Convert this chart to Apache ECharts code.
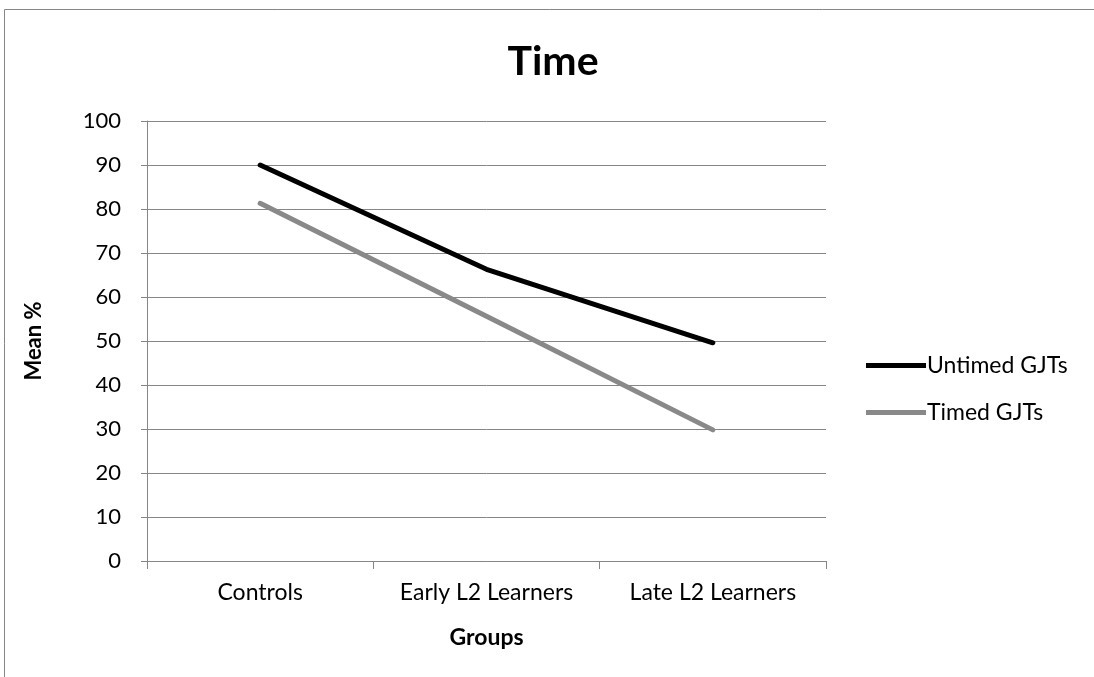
<!DOCTYPE html>
<html>
<head>
<meta charset="utf-8">
<script src="https://cdn.jsdelivr.net/npm/echarts@6/dist/echarts.min.js"></script>
<style>
  html, body { margin: 0; padding: 0; background: #fff; }
  #chart { width: 1094px; height: 677px; }
</style>
</head>
<body>
<div id="chart"></div>
<script>
// data
const groups = ['Controls', 'Early L2 Learners', 'Late L2 Learners']
const untimed = [90, 66.3, 49.6]
const timed = [81.3, 55.6, 29.8]
const yTicks = [0, 100, 10]

const font = 'Lato, "Open Sans", sans-serif'
const gridGray = '#868686'

let myChart = echarts.init(document.getElementById('chart'))
let option = {
  animation: false,
  textStyle: { fontFamily: font },
  title: {
    text: 'Time',
    left: 548,
    textAlign: 'center',
    top: 36,
    textStyle: { fontSize: 41, fontWeight: 'bold', color: '#000', fontFamily: font }
  },
  graphic: [{
    type: 'rect',
    shape: { x: 4.5, y: 9.5, width: 1200, height: 800 },
    style: { fill: 'none', stroke: gridGray, lineWidth: 1 },
    silent: true
  }],
  legend: {
    orient: 'vertical',
    left: 861,
    top: 349,
    itemWidth: 60,
    itemHeight: 5,
    itemGap: 24,
    icon: 'rect',
    textStyle: { fontSize: 23, color: '#000', fontFamily: font, padding: [0, 0, 0, -4] },
    data: ['Untimed GJTs', 'Timed GJTs']
  },
  grid: { left: 147, right: 268, top: 121, bottom: 116 },
  xAxis: {
    type: 'category',
    data: groups,
    boundaryGap: true,
    name: 'Groups',
    nameLocation: 'middle',
    nameGap: 65,
    nameTextStyle: { fontSize: 23, fontWeight: 'bold', color: '#000' },
    axisLine: { lineStyle: { color: gridGray, width: 1 } },
    axisTick: { show: true, length: 8, lineStyle: { color: gridGray } },
    axisLabel: { fontSize: 23, color: '#000', margin: 20 }
  },
  yAxis: {
    type: 'value',
    min: yTicks[0],
    max: yTicks[1],
    interval: yTicks[2],
    name: 'Mean %',
    nameLocation: 'middle',
    nameGap: 102,
    nameRotate: 90,
    nameTextStyle: { fontSize: 22, fontWeight: 'bold', color: '#000' },
    axisLine: { show: true, lineStyle: { color: gridGray, width: 1 } },
    axisTick: { show: true, length: 6, lineStyle: { color: gridGray } },
    splitLine: { lineStyle: { color: gridGray, width: 1 } },
    axisLabel: { fontSize: 22, color: '#000', margin: 26 }
  },
  series: [
    {
      name: 'Untimed GJTs',
      type: 'line',
      data: untimed,
      symbol: 'none',
      itemStyle: { color: '#000' },
      lineStyle: { color: '#000', width: 5, cap: 'round', join: 'round' }
    },
    {
      name: 'Timed GJTs',
      type: 'line',
      data: timed,
      symbol: 'none',
      itemStyle: { color: '#898989' },
      lineStyle: { color: '#898989', width: 5, cap: 'round', join: 'round' }
    }
  ]
}
myChart.setOption(option)
</script>
</body>
</html>
